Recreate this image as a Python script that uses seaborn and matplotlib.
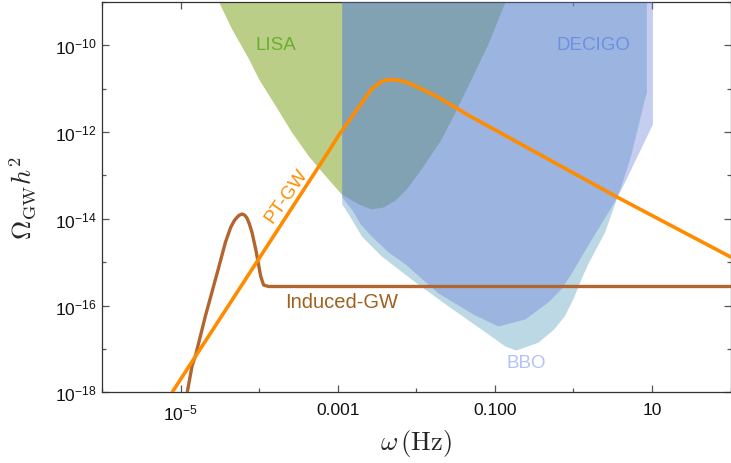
import numpy as np
import matplotlib
matplotlib.use("Agg")
import matplotlib.pyplot as plt
import seaborn as sns
from matplotlib.ticker import FixedLocator, FixedFormatter, NullFormatter

# ---- data (log10 of frequency in Hz, log10 of Omega_GW h^2) ----
pt_logf = [-5.20, -5.107, -3.096, -2.991, -2.779, -2.674, -2.569, -2.505, -2.442, -2.378,
           -2.315, -2.230, -2.145, -2.039, -1.934, -1.827, -1.722, -1.468, -1.341, 0.562, 2.0]
pt_logo = [-18.26, -18.0, -12.39, -12.083, -11.544, -11.276, -11.007, -10.914, -10.838, -10.799,
           -10.792, -10.799, -10.838, -10.914, -11.007, -11.099, -11.198, -11.468, -11.606,
           -13.504, -14.878]

ind_logf = [-4.926, -4.853, -4.810, -4.683, -4.514, -4.429, -4.362, -4.311, -4.260, -4.218,
            -4.184, -4.155, -4.124, -4.091, -4.044, -4.013, -3.981, -3.943, -3.879, 2.0]
ind_logo = [-18.108, -17.387, -17.156, -16.234, -15.118, -14.541, -14.196, -14.027, -13.925,
            -13.889, -13.915, -13.981, -14.119, -14.311, -14.696, -14.996, -15.318, -15.526,
            -15.56, -15.56]

lisa_logf = [-4.55, -4.514, -4.349, -4.133, -4.006, -3.791, -3.588, -3.372, -3.156, -2.953,
             -2.737, -2.572, -2.420, -2.268, -2.128, -1.976, -1.836, -1.684, -1.506,
             -1.303, -1.088, -0.872, -0.84]
lisa_logo = [-8.9, -9.0, -9.623, -10.315, -10.776, -11.399, -11.998, -12.551, -13.013, -13.428,
             -13.658, -13.774, -13.727, -13.566, -13.312, -12.944, -12.575, -12.160, -11.537,
             -10.776, -9.969, -9.0, -8.9]

decigo_logf = [-2.949, -2.826, -2.712, -2.572, -2.357, -2.141, -1.722, -1.278, -0.961,
               -0.618, -0.326, -0.161, -0.034, 0.093, 0.245, 0.385, 0.524, 0.651, 1.006]
decigo_logo = [-13.497, -13.774, -14.119, -14.396, -14.765, -15.042, -15.710, -16.195, -16.471,
               -16.310, -15.918, -15.618, -15.272, -14.880, -14.419, -14.004, -13.589, -13.151,
               -11.814]

bbo_logf = [-2.949, -2.864, -2.699, -2.445, -2.014, -1.595, -1.176, -0.872, -0.732, -0.453,
            -0.250, -0.114, 0.004, 0.096, 0.181, 0.397, 0.604, 0.727, 0.905, 0.930]
bbo_logo = [-13.658, -13.889, -14.396, -14.857, -15.457, -16.010, -16.540, -16.932, -17.025,
            -16.847, -16.540, -16.234, -15.803, -15.388, -15.042, -14.304, -13.243, -12.551,
            -11.237, -11.076]

xtick_major = [1e-5, 1e-3, 1e-1, 1e1]
xtick_labels = [r"$\mathregular{10^{-5}}$", "0.001", "0.100", "10"]
xtick_minor = [1e-6, 1e-4, 1e-2, 1e0, 1e2]
ytick_major = [1e-18, 1e-16, 1e-14, 1e-12, 1e-10]
ytick_labels = [r"$\mathregular{10^{-18}}$", r"$\mathregular{10^{-16}}$", r"$\mathregular{10^{-14}}$",
                r"$\mathregular{10^{-12}}$", r"$\mathregular{10^{-10}}$"]
ytick_minor = [1e-17, 1e-15, 1e-13, 1e-11, 1e-9]

YTOP = 1e-9

sns.set_style("ticks")
plt.rcParams['font.family'] = ['Liberation Sans', 'DejaVu Sans']

fig = plt.figure(figsize=(7.31, 4.64), dpi=100)
ax = fig.add_axes([102 / 731, (464 - 393.3) / 464, 628.5 / 731, 390.3 / 464])

def p10(v):
    return 10 ** np.asarray(v, dtype=float)

# Detector sensitivity regions
ax.fill_between(p10(lisa_logf), p10(lisa_logo), 1e-8, color="#BACE87", lw=0, zorder=1)
ax.fill_between(p10(bbo_logf), p10(bbo_logo), 1e-8, color="#5C9EC0", alpha=0.40, lw=0, zorder=2)
ax.fill_between(p10(decigo_logf), p10(decigo_logo), 1e-8, color="#627AD9", alpha=0.37, lw=0, zorder=3)

# Spectra
sns.lineplot(x=p10(ind_logf), y=p10(ind_logo), ax=ax, color="#B3652F", lw=2.4,
             sort=False, estimator=None, zorder=5)
sns.lineplot(x=p10(pt_logf), y=p10(pt_logo), ax=ax, color="#FF8C00", lw=2.6,
             sort=False, estimator=None, zorder=6)

ax.set_xscale("log")
ax.set_yscale("log")
ax.set_xlim(1e-6, 1e2)
ax.set_ylim(1e-18, YTOP)

ax.xaxis.set_major_locator(FixedLocator(xtick_major))
ax.xaxis.set_major_formatter(FixedFormatter(xtick_labels))
ax.xaxis.set_minor_locator(FixedLocator(xtick_minor))
ax.xaxis.set_minor_formatter(NullFormatter())
ax.yaxis.set_major_locator(FixedLocator(ytick_major))
ax.yaxis.set_major_formatter(FixedFormatter(ytick_labels))
ax.yaxis.set_minor_locator(FixedLocator(ytick_minor))
ax.yaxis.set_minor_formatter(NullFormatter())

ax.tick_params(which="both", direction="in", top=True, right=True, color="#555555",
               width=0.9, labelsize=12.5, labelcolor="#111111")
ax.tick_params(which="major", length=5)
ax.tick_params(which="minor", length=3)
ax.tick_params(axis="x", pad=7)
ax.tick_params(axis="y", pad=4)
for s in ax.spines.values():
    s.set_color("#333333")
    s.set_linewidth(0.9)

ax.set_xlabel(r"$\omega\,(\mathrm{Hz})$", fontsize=19, math_fontfamily="cm", labelpad=4)
ax.set_ylabel(r"$\Omega_{\rm GW}h^2$", fontsize=19, math_fontfamily="cm", labelpad=12)

# Labels
ax.text(10 ** -3.784, 10 ** -9.969, "LISA", color="#6AAE2E", fontsize=13.5, ha="center", va="center")
ax.text(10 ** 0.254, 10 ** -9.969, "DECIGO", color="#6F8FE2", fontsize=13.5, ha="center", va="center")
ax.text(10 ** -0.605, 10 ** -17.308, "BBO", color="#B4C3F5", fontsize=13.5, ha="center", va="center")
ax.text(10 ** -2.947, 10 ** -15.911, "Induced-GW", color="#A0601E", fontsize=14.5, ha="center", va="center")
ax.text(10 ** -3.657, 10 ** -13.451, "PT-GW", color="#FF8C00", fontsize=13.5, ha="center", va="center",
        rotation=55, rotation_mode="anchor")

fig.savefig("out.png", dpi=100)
